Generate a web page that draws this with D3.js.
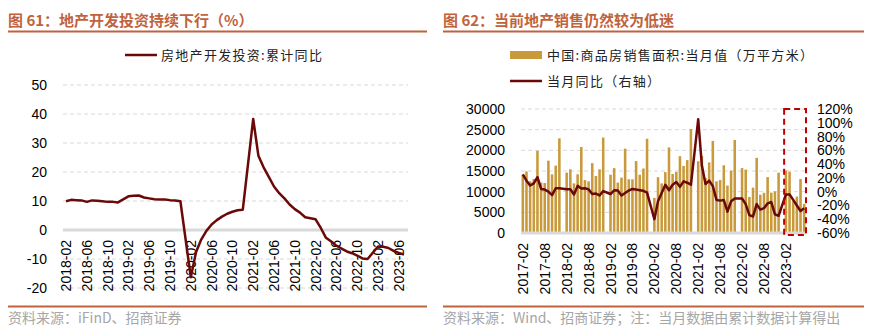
<!DOCTYPE html>
<html>
<head>
<meta charset="utf-8">
<script src="https://cdn.jsdelivr.net/npm/d3@7"></script>
<style>
  body { margin: 0; background: #fff; }
  svg text { font-family: "Liberation Sans", Arial, sans-serif; }
  .cjk { font-family: "Noto Sans CJK SC", sans-serif; }
</style>
</head>
<body>
<svg id="chart" width="870" height="331"></svg>
<script>
// ---- data: investment, cumulative yoy (%), Jan is not published
var invStart = [2018, 2], invEnd = [2023, 7];
var invYoY = [
  9.9, 10.4, 10.3, 10.2, 9.7, 10.2, 10.1, 9.9, 9.7, 9.7, 9.5,
  null, 11.6, 11.8, 11.9, 11.2, 10.9, 10.6, 10.5, 10.5, 10.3, 10.2, 9.9,
  null, -16.3, -7.7, -3.3, -0.3, 1.9, 3.4, 4.6, 5.6, 6.3, 6.8, 7.0,
  null, 38.3, 25.6, 21.6, 18.3, 15.0, 12.7, 10.9, 8.8, 7.2, 6.0, 4.4,
  null, 3.7, 0.7, -2.7, -4.0, -5.4, -6.4, -7.4, -8.0, -8.8, -9.8, -10.0,
  null, -5.7, -5.8, -6.2, -7.2, -7.9, -8.5
];
var invTicks = [50, 40, 30, 20, 10, 0, -10, -20];

// ---- data: monthly sales area (10k sqm) and monthly yoy (%)
var salesStart = [2017, 2], salesEnd = [2023, 7];
var salesArea = [
  14100, 14900, 12500, 13100, 19900, 12200, 12100, 17500, 14200, 16300, 22900,
  null, 14600, 15400, 12000, 14200, 20800, 12800, 12500, 16900, 13800, 15400, 23100,
  null, 14100, 15700, 12200, 13400, 20400, 13000, 13000, 17400, 14100, 15600, 22800,
  null, 8475, 13503, 11995, 14730, 20701, 14286, 14796, 18587, 16221, 17636, 25156,
  null, 17363, 18644, 13277, 17075, 22276, 12503, 12809, 16385, 11480, 15106, 22515,
  null, 15703, 15343, 8722, 10970, 18185, 9255, 9712, 13532, 9757, 10071, 14587,
  null, 15133, 14813, 7690, 8804, 13075, 7048
];
var salesYoY = [
  25, 16, 9, 12, 21, 4, 3, 0, -5, 5, 5,
  null, 3.5, 3.4, -4, 8.4, 4.5, 4.9, 3.3, -3.4, -2.8, -5.5, 0.9,
  null, -3.4, 2, 1.7, -5.6, -1.9, 1.6, 4, 3, 2.2, 1.3, -1.3,
  null, -40, -14, -2, 10, 2, 10, 14, 7, 15, 13, 10,
  null, 105, 38, 11, 16, 8, -12, -13, -12, -29, -14, -10,
  null, -10, -18, -34, -36, -18, -26, -24, -17, -15, -33, -35,
  null, -4, -4, -12, -20, -28, -24
];
var salesTicks = [0, 5000, 10000, 15000, 20000, 25000, 30000];
var yoyTicks = [-60, -40, -20, 0, 20, 40, 60, 80, 100, 120];

var titleColor = "#C0623C";
var lineColor = "#6B0808";
var barColor = "#C99A3B";
var gridColor = "#D9D9D9";

function monthList(from, to) {
  var out = [], y = from[0], m = from[1];
  while (y < to[0] || (y == to[0] && m <= to[1])) {
    out.push(y + "-" + (m < 10 ? "0" + m : m));
    m++;
    if (m > 12) { m = 1; y++; }
  }
  return out;
}

var svg = d3.select("#chart");

// title, rules and source text of a panel
function frame(x0, x1, title, source) {
  svg.append("text").attr("class", "cjk")
    .attr("x", x0).attr("y", 26)
    .attr("font-size", 15).attr("font-weight", "bold")
    .attr("fill", titleColor).text(title);
  svg.append("line").attr("x1", x0).attr("x2", x1).attr("y1", 31.5).attr("y2", 31.5)
    .attr("stroke", titleColor).attr("stroke-width", 2);
  svg.append("line").attr("x1", x0).attr("x2", x1).attr("y1", 306.5).attr("y2", 306.5)
    .attr("stroke", titleColor).attr("stroke-width", 2);
  svg.append("text").attr("class", "cjk")
    .attr("x", x0).attr("y", 323)
    .attr("font-size", 14).attr("fill", "#A6A6A6").text(source);
}

function xLabels(g, months, x, every, top) {
  g.selectAll("text").data(months.filter(function(d, i) { return i % every == 0; }))
    .enter().append("text")
    .attr("transform", function(d) { return "translate(" + (x(d) + 5) + "," + top + ") rotate(-90)"; })
    .attr("text-anchor", "end")
    .attr("font-size", 14).attr("fill", "#000")
    .text(function(d) { return d; });
}

// ---- left panel
(function() {
  frame(8, 427, "图 61：地产开发投资持续下行（%）", "资料来源：iFinD、招商证券");

  var months = monthList(invStart, invEnd);
  var x = d3.scalePoint().domain(months).range([66, 404]);
  var y = d3.scaleLinear().domain([-20, 50]).range([288, 85]);
  var g = svg.append("g");

  g.selectAll(".grid").data(invTicks.filter(function(d) { return d != 0; }))
    .enter().append("line")
    .attr("x1", 63).attr("x2", 408)
    .attr("y1", function(d) { return y(d); }).attr("y2", function(d) { return y(d); })
    .attr("stroke", gridColor).attr("stroke-dasharray", "4,3");
  g.append("line").attr("x1", 63).attr("x2", 408).attr("y1", y(0)).attr("y2", y(0))
    .attr("stroke", gridColor).attr("stroke-width", 3);

  g.selectAll(".ytick").data(invTicks).enter().append("text")
    .attr("x", 47).attr("y", function(d) { return y(d) + 5; })
    .attr("text-anchor", "end").attr("font-size", 14).text(function(d) { return d; });

  xLabels(g.append("g"), months, x, 4, 240);

  var pts = months.map(function(m, i) { return { m: m, v: invYoY[i] }; })
    .filter(function(d) { return d.v != null; });
  g.append("path").datum(pts)
    .attr("d", d3.line().x(function(d) { return x(d.m); }).y(function(d) { return y(d.v); }))
    .attr("fill", "none").attr("stroke", lineColor).attr("stroke-width", 2.5)
    .attr("stroke-linejoin", "round");

  // legend
  g.append("line").attr("x1", 125).attr("x2", 157).attr("y1", 55).attr("y2", 55)
    .attr("stroke", lineColor).attr("stroke-width", 2.5);
  g.append("text").attr("class", "cjk").attr("x", 161).attr("y", 60)
    .attr("font-size", 13).attr("letter-spacing", 1.3).attr("fill", "#222")
    .text("房地产开发投资:累计同比");
})();

// ---- right panel
(function() {
  frame(443, 864, "图 62：当前地产销售仍然较为低迷", "资料来源：Wind、招商证券；注：当月数据由累计数据计算得出");

  var months = monthList(salesStart, salesEnd);
  var x = d3.scaleBand().domain(months).range([521, 806]).paddingInner(0.3).paddingOuter(0.15);
  var y = d3.scaleLinear().domain([0, 30000]).range([233, 109]);
  var y2 = d3.scaleLinear().domain([-60, 120]).range([233, 109]);
  var g = svg.append("g");

  g.selectAll(".grid").data(salesTicks.filter(function(d) { return d != 0; }))
    .enter().append("line")
    .attr("x1", 521).attr("x2", 806)
    .attr("y1", function(d) { return y(d); }).attr("y2", function(d) { return y(d); })
    .attr("stroke", gridColor).attr("stroke-dasharray", "4,3");

  g.selectAll(".ytick").data(salesTicks).enter().append("text")
    .attr("x", 505).attr("y", function(d) { return y(d) + 5; })
    .attr("text-anchor", "end").attr("font-size", 14).text(function(d) { return d; });
  g.selectAll(".y2tick").data(yoyTicks).enter().append("text")
    .attr("x", 817).attr("y", function(d) { return y2(d) + 5; })
    .attr("font-size", 14).text(function(d) { return d + "%"; });

  var data = months.map(function(m, i) { return { m: m, v: salesArea[i], r: salesYoY[i] }; });
  g.selectAll(".bar").data(data.filter(function(d) { return d.v != null; }))
    .enter().append("rect")
    .attr("x", function(d) { return x(d.m); }).attr("width", x.bandwidth())
    .attr("y", function(d) { return y(d.v); })
    .attr("height", function(d) { return y(0) - y(d.v); })
    .attr("fill", barColor);

  g.append("line").attr("x1", 521).attr("x2", 806).attr("y1", y(0)).attr("y2", y(0))
    .attr("stroke", gridColor).attr("stroke-width", 3);

  var mid = function(d) { return x(d.m) + x.bandwidth() / 2; };
  g.append("path").datum(data.filter(function(d) { return d.r != null; }))
    .attr("d", d3.line().x(mid).y(function(d) { return y2(d.r); }))
    .attr("fill", "none").attr("stroke", lineColor).attr("stroke-width", 2.5)
    .attr("stroke-linejoin", "round");

  xLabels(g.append("g"), months, function(m) { return x(m) + x.bandwidth() / 2; }, 6, 243);

  // dashed box round the latest months
  var boxL = x("2023-02") - 0.5;
  g.append("rect").attr("x", boxL).attr("y", 109)
    .attr("width", 806 - boxL).attr("height", 126)
    .attr("fill", "none").attr("stroke", "#C00000").attr("stroke-width", 2)
    .attr("stroke-dasharray", "6,4");

  // legend
  g.append("rect").attr("x", 510).attr("y", 51).attr("width", 32).attr("height", 8)
    .attr("fill", barColor);
  g.append("text").attr("class", "cjk").attr("x", 547).attr("y", 60)
    .attr("font-size", 13).attr("letter-spacing", 1.3).attr("fill", "#222")
    .text("中国:商品房销售面积:当月值（万平方米）");
  g.append("line").attr("x1", 510).attr("x2", 542).attr("y1", 81).attr("y2", 81)
    .attr("stroke", lineColor).attr("stroke-width", 2.5);
  g.append("text").attr("class", "cjk").attr("x", 547).attr("y", 86)
    .attr("font-size", 13).attr("letter-spacing", 1.3).attr("fill", "#222")
    .text("当月同比（右轴）");
})();
</script>
</body>
</html>
